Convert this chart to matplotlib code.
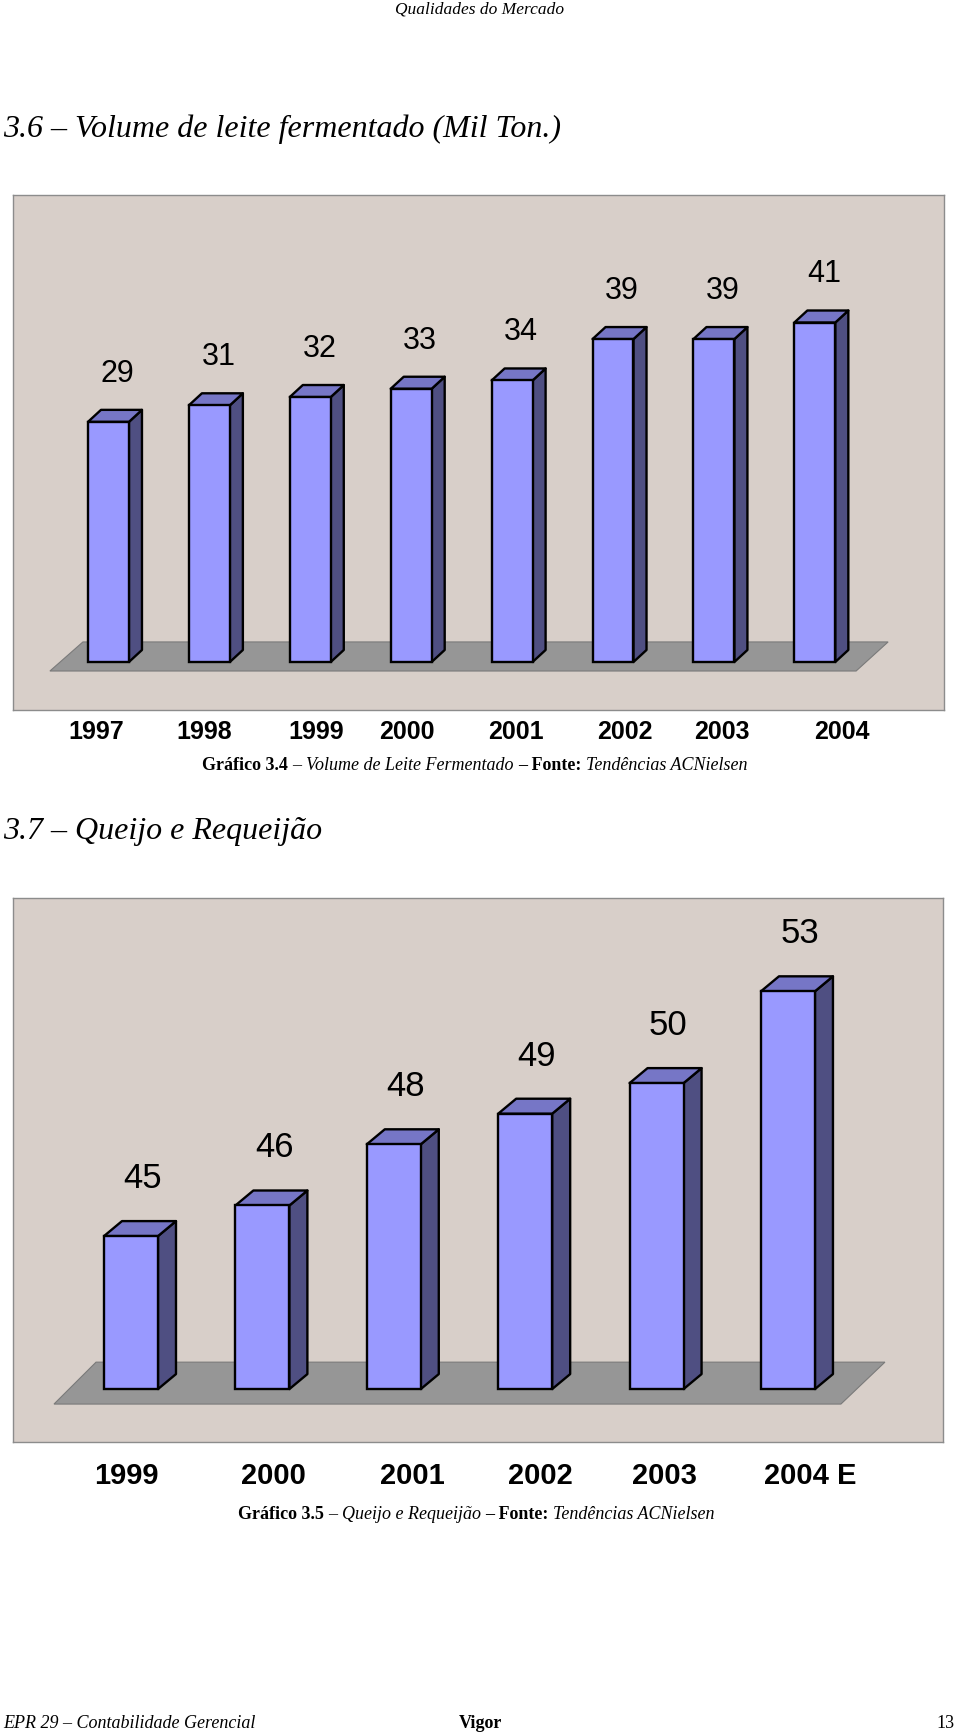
import matplotlib
matplotlib.use("Agg")
import matplotlib.pyplot as plt
from matplotlib.patches import Polygon
import numpy as np

# Dados dos dois graficos
anos_leite = ["1997", "1998", "1999", "2000", "2001", "2002", "2003", "2004"]
volume_leite = [29, 31, 32, 33, 34, 39, 39, 41]

anos_queijo = ["1999", "2000", "2001", "2002", "2003", "2004 E"]
volume_queijo = [45, 46, 48, 49, 50, 53]

# posicao (px) dos rotulos dos anos, como no documento original
pos_anos_leite = [96, 204, 316, 407, 516, 625, 722, 842]
pos_anos_queijo = [126, 273, 412, 540, 664, 810]

W, H = 960, 1734
SERIF = "Liberation Serif"
NARROW = ["Liberation Sans Narrow", "Liberation Sans", "DejaVu Sans"]

cor_fundo = "#D8CFC9"
cor_frente = "#9999FF"
cor_lado = "#4F4F82"
cor_topo = "#7676C6"
cor_chao = "#969696"

fig = plt.figure(figsize=(W / 100, H / 100), dpi=100)

# eixo da pagina inteira, em pixels
pg = fig.add_axes([0, 0, 1, 1])
pg.set_xlim(0, W)
pg.set_ylim(H, 0)
pg.axis("off")


def texto_misto(x, y, partes, size):
    # partes: (texto, peso, estilo) escritos um depois do outro
    t = pg.text(x, y, partes[0][0], fontsize=size, family=SERIF,
                weight=partes[0][1], style=partes[0][2], va="bottom", ha="left")
    for s, w, st in partes[1:]:
        t = pg.annotate(s, xy=(1, 0), xycoords=t, xytext=(0.25 * size, 0),
                        textcoords="offset points", fontsize=size, family=SERIF,
                        weight=w, style=st, va="bottom", ha="left")
    return t


def grafico(caixa, valores, base, y_min, y_max, x_min, x_max, largura, dx, dy,
            chao, rot_off, rot_size):
    l, t, r, b = caixa
    ax = fig.add_axes([l / W, 1 - b / H, (r - l) / W, (b - t) / H])
    ax.set_facecolor(cor_fundo)
    ax.set_xlim(x_min, x_max)
    ax.set_ylim(y_min, y_max)
    ax.set_xticks([])
    ax.set_yticks([])
    for sp in ax.spines.values():
        sp.set_color("#8C8C8C")
        sp.set_linewidth(1.0)

    n = len(valores)
    # chao cinza (paralelogramo)
    fb, ff, yb, yf = chao
    ax.add_patch(Polygon([(fb[0], yb), (fb[1] + n - 1, yb), (ff[1] + n - 1, yf), (ff[0], yf)],
                         closed=True, facecolor=cor_chao, edgecolor="#7A7A7A", lw=0.8, zorder=1))

    x = np.arange(n)
    for i, v in enumerate(valores):
        xl = x[i] - largura / 2
        xr = x[i] + largura / 2
        lado = [(xr, base), (xr + dx, base + dy), (xr + dx, v + dy), (xr, v)]
        topo = [(xl, v), (xr, v), (xr + dx, v + dy), (xl + dx, v + dy)]
        ax.add_patch(Polygon(lado, closed=True, facecolor=cor_lado, edgecolor="black",
                             lw=1.7, joinstyle="round", zorder=2))
        ax.add_patch(Polygon(topo, closed=True, facecolor=cor_topo, edgecolor="black",
                             lw=1.7, joinstyle="round", zorder=2))
    ax.bar(x, np.array(valores) - base, bottom=base, width=largura, color=cor_frente,
           edgecolor="black", linewidth=1.7, zorder=3)

    for i, v in enumerate(valores):
        ax.text(x[i] + 0.09, v + rot_off, str(v), ha="center", va="center",
                fontsize=rot_size, family=NARROW, color="black", zorder=4)
    return ax


# Cabecalho
pg.text(480, 9, "Qualidades do Mercado", fontsize=12.5, family=SERIF, style="italic",
        ha="center", va="center")

# ---- Grafico 3.4 ----
pg.text(3, 129, "3.6 \u2013 Volume de leite fermentado (Mil Ton.)", fontsize=23,
        family=SERIF, style="italic", ha="left", va="center")

grafico((13, 195, 944, 710), volume_leite, base=0, y_min=-5.8, y_max=56.4,
        x_min=-0.946, x_max=8.28, largura=0.406, dx=0.129, dy=1.45,
        chao=((-0.253, 0.726), (-0.58, 0.409), 2.42, -1.09),
        rot_off=5.8, rot_size=22)

for a, px in zip(anos_leite, pos_anos_leite):
    pg.text(px, 732, a, fontsize=18, family="Liberation Sans", weight="bold",
            ha="center", va="center")

texto_misto(202, 774, [("Gr\u00e1fico 3.4", "bold", "normal"),
                       ("\u2013", "normal", "normal"),
                       ("Volume de Leite Fermentado", "normal", "italic"),
                       ("\u2013 Fonte:", "bold", "normal"),
                       ("Tend\u00eancias ACNielsen", "normal", "italic")], 13)

# ---- Grafico 3.5 ----
pg.text(3, 831, "3.7 \u2013 Queijo e Requeij\u00e3o", fontsize=23,
        family=SERIF, style="italic", ha="left", va="center")

grafico((13, 898, 943, 1442), volume_queijo, base=40, y_min=38.27, y_max=56.05,
        x_min=-0.898, x_max=6.18, largura=0.411, dx=0.137, dy=0.49,
        chao=((-0.266, 0.738), (-0.586, 0.403), 40.88, 39.51),
        rot_off=1.88, rot_size=25)

for a, px in zip(anos_queijo, pos_anos_queijo):
    pg.text(px, 1476, a, fontsize=21, family="Liberation Sans", weight="bold",
            ha="center", va="center")

texto_misto(238, 1523, [("Gr\u00e1fico 3.5", "bold", "normal"),
                        ("\u2013", "normal", "normal"),
                        ("Queijo e Requeij\u00e3o", "normal", "italic"),
                        ("\u2013 Fonte:", "bold", "normal"),
                        ("Tend\u00eancias ACNielsen", "normal", "italic")], 13)

# Rodape
pg.text(3, 1723, "EPR 29 \u2013 Contabilidade Gerencial", fontsize=13, family=SERIF,
        style="italic", ha="left", va="center")
pg.text(480, 1723, "Vigor", fontsize=13, family=SERIF, weight="bold",
        ha="center", va="center")
pg.text(955, 1723, "13", fontsize=13, family=SERIF, ha="right", va="center")

fig.savefig("out.png", dpi=100)
